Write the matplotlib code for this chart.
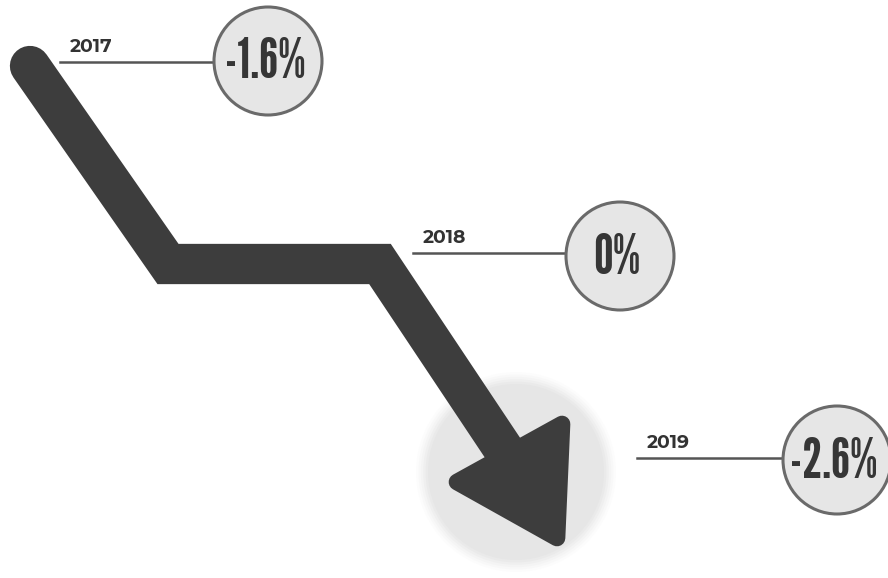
import numpy as np
import matplotlib.pyplot as plt
from matplotlib.patches import Circle, Polygon

# data
years = ['2017', '2018', '2019']
changes = [-1.6, 0.0, -2.6]

# layout (pixel coordinates, y down)
label_rows = [62, 253, 458]
line_x0 = [60, 413, 637]
circle_x = [268, 620, 837]
circle_y = [61, 256, 460]
radius = 54
path_x = [30, 168, 380, 512]
path_y = [66, 264, 264, 462]
head = [(562, 424), (457, 482), (557, 538)]

fig = plt.figure(figsize=(8.88, 5.78), dpi=100)
ax = fig.add_axes([0, 0, 1, 1])
ax.set_xlim(0, 888)
ax.set_ylim(578, 0)
ax.axis('off')

# soft glow circle behind the arrow head
for r, a in zip(np.linspace(100, 88, 6), [0.1, 0.15, 0.22, 0.35, 0.55, 1.0]):
    ax.add_patch(Circle((516, 472), r, color='#e6e6e6', alpha=a, lw=0, zorder=1))

# arrow body
ax.plot(path_x, path_y, color='#3d3d3d', lw=29, solid_capstyle='round',
        solid_joinstyle='miter', zorder=3)
ax.add_patch(Polygon(head, closed=True, color='#3d3d3d', lw=12,
                     joinstyle='round', zorder=4))

for yr, val, y, x0, cx, cy in zip(years, changes, label_rows, line_x0, circle_x, circle_y):
    ax.plot([x0, cx - radius], [y, y], color='#555555', lw=1.8, zorder=2)
    ax.text(x0 + 10, y - 10, yr, fontsize=13.5, fontweight='bold', color='#333333',
            family=['Montserrat Alternates', 'DejaVu Sans'], ha='left', va='baseline',
            zorder=5)
    ax.add_patch(Circle((cx, cy), radius, facecolor='#e6e6e6', edgecolor='#6a6a6a',
                        lw=2.2, zorder=4))
    lab = f'{val:g}%'
    ax.text(cx - 3, cy + 2, lab, fontsize=40, color='#363636',
            family=['League Gothic', 'DejaVu Sans'], ha='center', va='center',
            zorder=5)

fig.savefig('out.png', dpi=100, facecolor='white')
